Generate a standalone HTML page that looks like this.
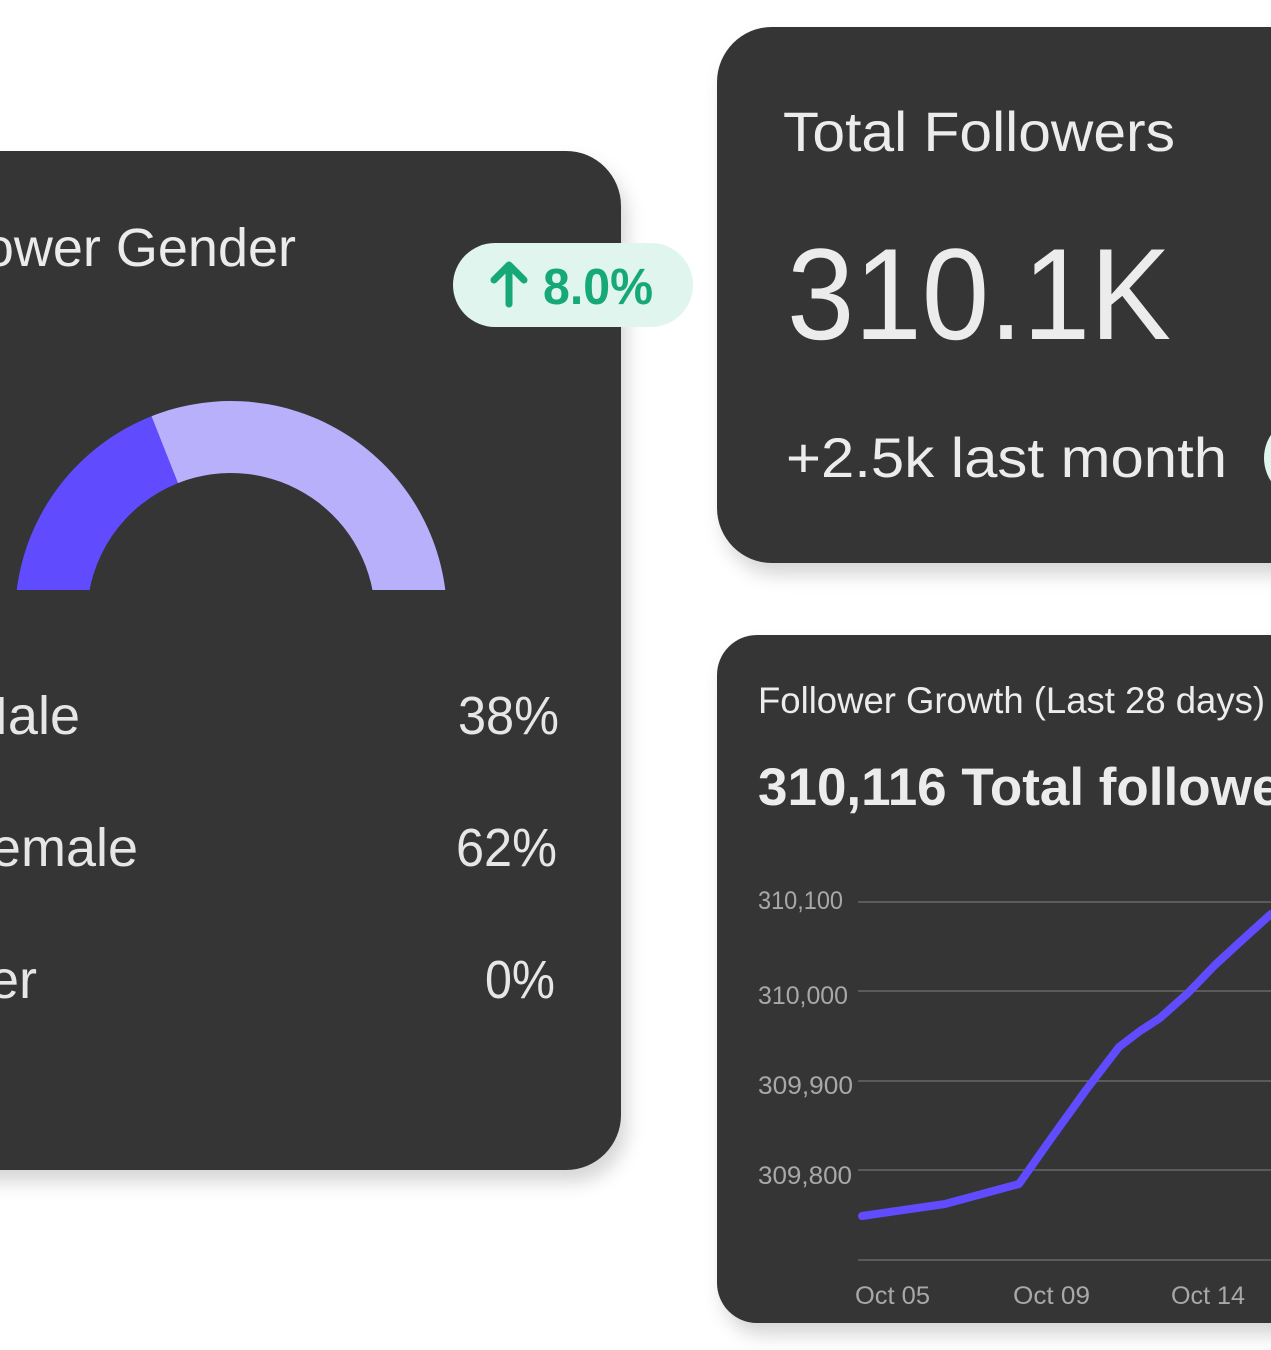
<!DOCTYPE html>
<html>
<head>
<meta charset="utf-8">
<style>
  html,body{margin:0;padding:0;background:#ffffff;}
  svg{display:block;}
  text{font-family:"Liberation Sans", Arial, sans-serif;}
</style>
</head>
<body>
<svg width="1271" height="1350" viewBox="0 0 1271 1350" xmlns="http://www.w3.org/2000/svg">
  <defs>
    <filter id="sh" x="-20%" y="-20%" width="140%" height="140%">
      <feDropShadow dx="6" dy="12" stdDeviation="9" flood-color="#000" flood-opacity="0.16"/>
    </filter>
    <clipPath id="gclip">
      <rect x="0" y="380" width="620" height="210"/>
    </clipPath>
  </defs>

  <!-- Left card: Follower Gender -->
  <rect x="-120" y="151" width="741" height="1019" rx="55" ry="55" fill="#363636" filter="url(#sh)"/>
  <text x="296" y="266" text-anchor="end" font-size="54" fill="#ebebeb">Follower Gender</text>

  <g clip-path="url(#gclip)">
    <path d="M15,617 A216,216 0 0 1 151.5,416.2 L178,483.1 A144,144 0 0 0 87,617 Z" fill="#604cfe"/>
    <path d="M151.5,416.2 A216,216 0 0 1 447,617 L375,617 A144,144 0 0 0 178,483.1 Z" fill="#b9b0fc"/>
  </g>

  <text x="80" y="734" text-anchor="end" font-size="54" fill="#e6e6e6">Male</text>
  <text x="559" y="734" text-anchor="end" font-size="54" fill="#e6e6e6" textLength="101" lengthAdjust="spacingAndGlyphs">38%</text>
  <text x="138" y="866" text-anchor="end" font-size="54" fill="#e6e6e6">Female</text>
  <text x="557" y="866" text-anchor="end" font-size="54" fill="#e6e6e6" textLength="101" lengthAdjust="spacingAndGlyphs">62%</text>
  <text x="37" y="998" text-anchor="end" font-size="54" fill="#e6e6e6">Other</text>
  <text x="555" y="998" text-anchor="end" font-size="54" fill="#e6e6e6" textLength="70" lengthAdjust="spacingAndGlyphs">0%</text>

  <!-- Badge 8.0% -->
  <rect x="453" y="243" width="240" height="84" rx="42" ry="42" fill="#e0f5ee"/>
  <g stroke="#17a877" stroke-width="7" stroke-linecap="round" stroke-linejoin="round" fill="none">
    <line x1="509" y1="304" x2="509" y2="266"/>
    <polyline points="494,280 509,265 524,280"/>
  </g>
  <text x="543" y="304" font-size="51" font-weight="bold" fill="#17a877" textLength="110" lengthAdjust="spacingAndGlyphs">8.0%</text>

  <!-- Top right card: Total Followers -->
  <rect x="717" y="27" width="720" height="536" rx="55" ry="55" fill="#363636" filter="url(#sh)"/>
  <text x="783" y="151" font-size="56" fill="#ececec" textLength="392" lengthAdjust="spacingAndGlyphs">Total Followers</text>
  <text x="787" y="339" font-size="130" fill="#ececec" textLength="384" lengthAdjust="spacingAndGlyphs">310.1K</text>
  <text x="786" y="477" font-size="56" fill="#ececec" textLength="441" lengthAdjust="spacingAndGlyphs">+2.5k last month</text>
  <rect x="1264" y="416" width="200" height="84" rx="42" ry="42" fill="#e0f5ee"/>

  <!-- Bottom right card: Follower Growth -->
  <rect x="717" y="635" width="720" height="688" rx="40" ry="40" fill="#363636" filter="url(#sh)"/>
  <text x="758" y="713" font-size="37" fill="#ececec" textLength="507" lengthAdjust="spacingAndGlyphs">Follower Growth (Last 28 days)</text>
  <text x="758" y="805" font-size="53" font-weight="bold" fill="#ececec">310,116 Total followers</text>

  <!-- grid -->
  <g stroke="#5b5b5b" stroke-width="2">
    <line x1="858" y1="902" x2="1271" y2="902"/>
    <line x1="858" y1="991" x2="1271" y2="991"/>
    <line x1="858" y1="1081" x2="1271" y2="1081"/>
    <line x1="858" y1="1170" x2="1271" y2="1170"/>
    <line x1="858" y1="1260" x2="1271" y2="1260"/>
  </g>

  <!-- y labels -->
  <g font-size="25" fill="#a8a8a8">
    <text x="758" y="909" textLength="85" lengthAdjust="spacingAndGlyphs">310,100</text>
    <text x="758" y="1004" textLength="90" lengthAdjust="spacingAndGlyphs">310,000</text>
    <text x="758" y="1094" textLength="95" lengthAdjust="spacingAndGlyphs">309,900</text>
    <text x="758" y="1184" textLength="94" lengthAdjust="spacingAndGlyphs">309,800</text>
  </g>

  <!-- x labels -->
  <g font-size="25" fill="#a8a8a8">
    <text x="855" y="1304" textLength="75" lengthAdjust="spacingAndGlyphs">Oct 05</text>
    <text x="1013" y="1304" textLength="77" lengthAdjust="spacingAndGlyphs">Oct 09</text>
    <text x="1171" y="1304" textLength="74" lengthAdjust="spacingAndGlyphs">Oct 14</text>
  </g>

  <!-- series -->
  <polyline points="862,1216 945,1204 1019,1184 1050,1140 1086,1090 1119,1047 1140,1031 1160,1018 1188,993 1215,965 1240,942 1271,914"
            fill="none" stroke="#604cfe" stroke-width="8" stroke-linecap="round" stroke-linejoin="round"/>
</svg>
</body>
</html>
